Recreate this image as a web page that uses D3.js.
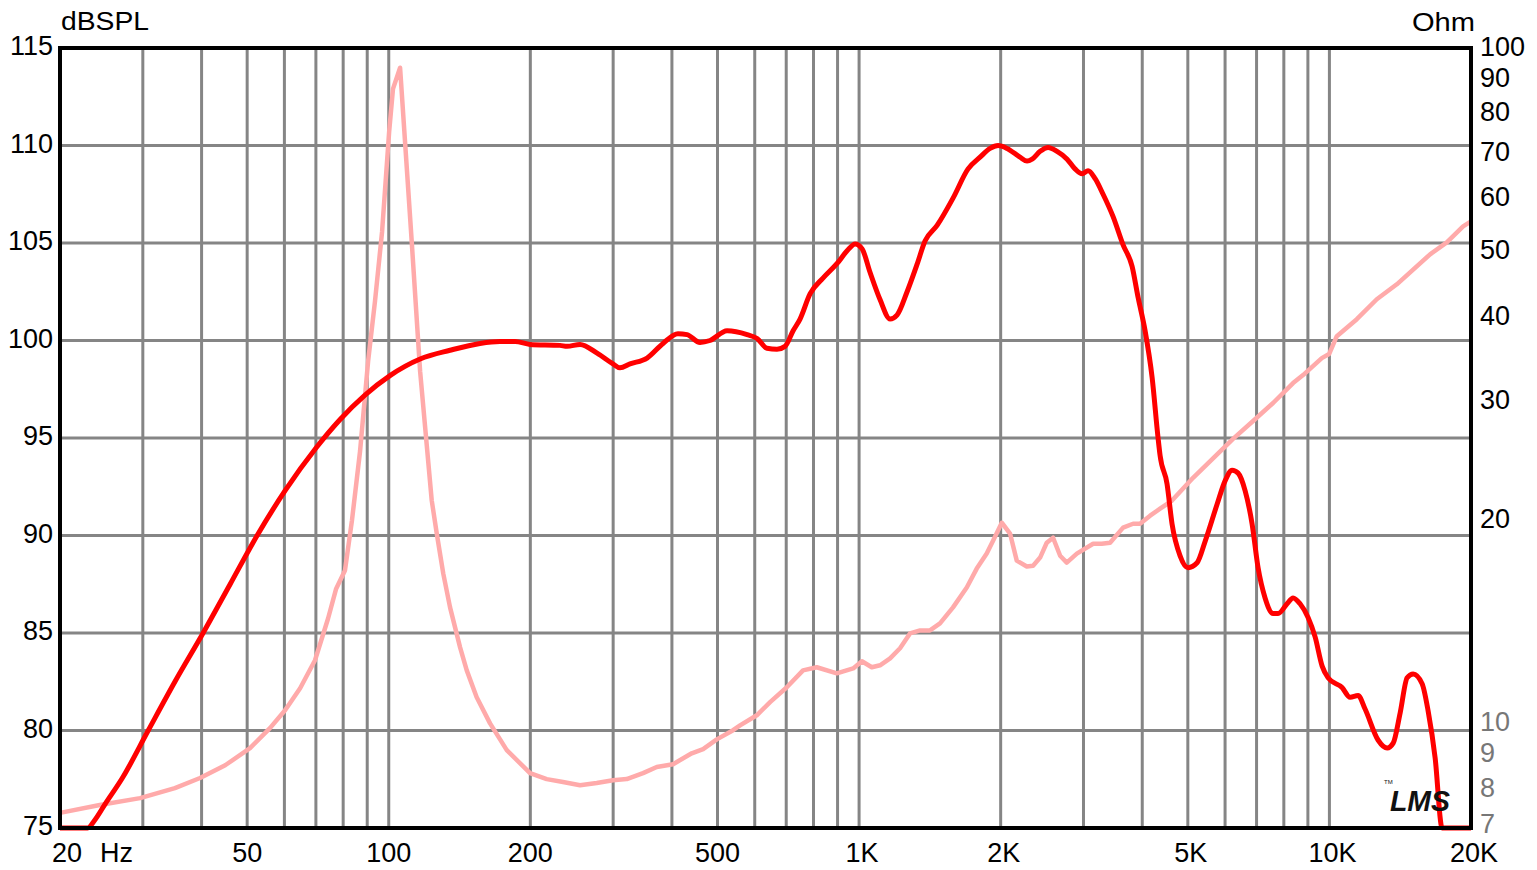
<!DOCTYPE html>
<html>
<head>
<meta charset="utf-8">
<script src="https://cdn.jsdelivr.net/npm/d3@7"></script>
<style>
  html, body { margin: 0; padding: 0; background: #fff; }
  svg { display: block; }
  text { font-family: "Liberation Sans", Arial, sans-serif; }
</style>
</head>
<body>
<svg id="chart" width="1537" height="870"></svg>
<script>
// ---------- data ----------
const splFreq = [20, 22.9, 23.7, 24.9, 27.2, 30.8, 35.1, 40.3, 46.0, 52.5, 60.2, 70.1, 78.8, 89.0, 100.6, 116.6, 135, 156.3, 172.4, 185.6, 199.7, 231.3, 239.4, 255.1, 277.3, 299.8, 310.2, 325.8, 354.2, 383, 412, 430.8, 459, 482, 524, 578, 607, 637, 669, 696, 724, 749, 787, 838, 898, 943, 981, 1015, 1055, 1108, 1164, 1204, 1265, 1328, 1381, 1465, 1584, 1705, 1808, 1899, 1975, 2064, 2199, 2276, 2333, 2426, 2523, 2636, 2769, 2878, 2980, 3068, 3176, 3302, 3468, 3642, 3806, 3920, 4056, 4198, 4322, 4365, 4516, 4628, 4814, 5006, 5232, 5442, 5770, 6000, 6210, 6396, 6618, 6848, 7052, 7298, 7590, 7780, 8128, 8370, 8662, 9008, 9324, 9650, 9938, 10638, 11066, 11508, 11908, 12696, 13268, 13664, 14138, 14630, 15066, 15744, 16214, 16778, 17362, 20000];
const splDb = [74, 75.0, 75.4, 76.2, 77.6, 80.0, 82.5, 85.0, 87.5, 90.0, 92.3, 94.5, 95.95, 97.2, 98.2, 99.05, 99.5, 99.85, 99.95, 99.95, 99.8, 99.75, 99.7, 99.8, 99.35, 98.8, 98.6, 98.8, 99.1, 99.85, 100.35, 100.3, 99.9, 100.0, 100.5, 100.3, 100.1, 99.6, 99.55, 99.7, 100.5, 101.1, 102.4, 103.2, 103.95, 104.6, 104.95, 104.7, 103.5, 102.1, 101.1, 101.3, 102.5, 103.9, 105.1, 105.9, 107.3, 108.8, 109.4, 109.85, 110.0, 109.85, 109.4, 109.2, 109.3, 109.7, 109.9, 109.7, 109.3, 108.8, 108.55, 108.7, 108.3, 107.5, 106.35, 104.9, 103.8, 102.2, 100.5, 98.1, 95.0, 94.1, 92.65, 90.6, 88.96, 88.35, 88.6, 89.7, 91.6, 92.8, 93.35, 93.2, 92.3, 90.6, 88.35, 86.8, 86.0, 86.0, 86.5, 86.8, 86.5, 85.8, 84.8, 83.3, 82.7, 82.2, 81.7, 81.8, 81.1, 79.5, 79.1, 79.35, 80.9, 82.7, 82.9, 82.4, 81.0, 78.6, 74.9, 70];

const impFreq = [20, 24.3, 29.6, 35.1, 39.7, 44.9, 50.7, 55.9, 60.2, 64.8, 69.7, 74.3, 77.3, 80.7, 83.5, 86.9, 90.4, 93.5, 96.8, 100.2, 102.1, 105.7, 111.9, 116.6, 123.4, 126.5, 130.6, 135, 141.8, 146.5, 153.8, 164.2, 178.2, 199.7, 216.7, 234.7, 255.1, 276.8, 299.8, 320.6, 347.3, 371.4, 402.2, 440.8, 466, 498.3, 539.6, 558.4, 606, 646.8, 702, 760, 812.8, 896.6, 971.3, 1014, 1064, 1108, 1164, 1222, 1283, 1348, 1415, 1486, 1584, 1694, 1779, 1868, 1927, 2011, 2094, 2164, 2273, 2344, 2426, 2506, 2585, 2676, 2764, 2904, 3145, 3280, 3417, 3642, 3824, 3957, 4157, 4365, 4622, 5130, 6238, 6882, 7590, 8370, 8790, 9634, 9984, 10368, 11436, 12610, 13910, 16370, 17764, 19242, 20000];
const impOhm = [7.37, 7.57, 7.75, 8.02, 8.30, 8.67, 9.19, 9.84, 10.46, 11.27, 12.40, 14.30, 15.83, 16.84, 19.95, 25.3, 34.4, 42.2, 53.5, 75.2, 87.0, 93.5, 51.7, 33.2, 21.4, 19.1, 16.66, 14.85, 12.96, 11.98, 10.93, 10.0, 9.13, 8.44, 8.27, 8.19, 8.10, 8.16, 8.24, 8.27, 8.44, 8.62, 8.70, 9.03, 9.16, 9.47, 9.77, 9.93, 10.28, 10.75, 11.31, 11.98, 12.11, 11.86, 12.06, 12.36, 12.11, 12.19, 12.48, 12.92, 13.59, 13.73, 13.73, 14.06, 14.85, 15.89, 16.95, 17.84, 18.64, 19.82, 19.10, 17.42, 17.07, 17.12, 17.60, 18.51, 18.83, 17.71, 17.30, 17.84, 18.45, 18.45, 18.51, 19.49, 19.75, 19.75, 20.30, 20.79, 21.36, 23.10, 26.38, 28.04, 29.81, 31.91, 32.79, 34.74, 35.22, 37.44, 39.67, 42.46, 44.68, 49.49, 51.55, 54.43, 55.36];

const dbTicks = [75, 80, 85, 90, 95, 100, 105, 110, 115];
const ohmTicks = [7, 8, 9, 10, 20, 30, 40, 50, 60, 70, 80, 90, 100];
const ohmGreyTicks = [7, 8, 9, 10];
const freqGrid = [30, 40, 50, 60, 70, 80, 90, 100, 200, 300, 400, 500, 600, 700, 800, 900, 1000, 2000, 3000, 4000, 5000, 6000, 7000, 8000, 9000, 10000];
const freqTickValues = [50, 100, 200, 500, 1000, 2000, 5000, 10000, 20000];
const freqTickLabels = ["50", "100", "200", "500", "1K", "2K", "5K", "10K", "20K"];
const leftTitle = "dBSPL";
const rightTitle = "Ohm";
const unitLabel = "Hz";

// ---------- layout ----------
const L = 60, R = 1471, T = 48, B = 828;
const svg = d3.select("#chart");

const x = d3.scaleLog().domain([20, 20000]).range([L, R]);
const y = d3.scaleLinear().domain([75, 115]).range([B, T]).clamp(true);
const yz = d3.scaleLog().domain([7, 100]).range([B, T]).clamp(true);

const gridColor = "#858585";

// vertical grid
svg.append("g").selectAll("line").data(freqGrid).join("line")
  .attr("x1", d => x(d)).attr("x2", d => x(d))
  .attr("y1", T).attr("y2", B)
  .attr("stroke", gridColor).attr("stroke-width", 3);

// horizontal grid
svg.append("g").selectAll("line").data(dbTicks.slice(1, -1)).join("line")
  .attr("x1", L).attr("x2", R)
  .attr("y1", d => y(d)).attr("y2", d => y(d))
  .attr("stroke", gridColor).attr("stroke-width", 3);

// curves
const splLine = d3.line().x(d => x(d[0])).y(d => y(d[1])).curve(d3.curveMonotoneX);
const impLine = d3.line().x(d => x(d[0])).y(d => yz(d[1]));

svg.append("path")
  .datum(d3.zip(impFreq, impOhm))
  .attr("d", impLine)
  .attr("fill", "none").attr("stroke", "#ffaaaa")
  .attr("stroke-width", 4.5).attr("stroke-linejoin", "round");

svg.append("path")
  .datum(d3.zip(splFreq, splDb))
  .attr("d", splLine)
  .attr("fill", "none").attr("stroke", "#ff0000")
  .attr("stroke-width", 5).attr("stroke-linejoin", "round");

// frame
svg.append("rect")
  .attr("x", L).attr("y", T).attr("width", R - L).attr("height", B - T)
  .attr("fill", "none").attr("stroke", "#000").attr("stroke-width", 4);

// left labels
svg.append("g").selectAll("text").data(dbTicks).join("text")
  .attr("x", 53).attr("y", d => y(d) + 7)
  .attr("text-anchor", "end").attr("font-size", 27).attr("fill", "#000")
  .text(d => d);

// right labels
svg.append("g").selectAll("text").data(ohmTicks).join("text")
  .attr("x", 1480).attr("y", d => yz(d) + (d === 7 ? 5 : 8))
  .attr("text-anchor", "start").attr("font-size", 27)
  .attr("fill", d => ohmGreyTicks.includes(d) ? "#777777" : "#000")
  .text(d => d);

// bottom labels
svg.append("g").selectAll("text").data(freqTickValues).join("text")
  .attr("x", (d, i) => x(d) + (freqTickLabels[i].includes("K") ? 3 : 0))
  .attr("y", 862)
  .attr("text-anchor", "middle").attr("font-size", 27).attr("fill", "#000")
  .text((d, i) => freqTickLabels[i]);

svg.append("text").attr("x", x(20) - 8).attr("y", 862)
  .attr("font-size", 27).text("20");
svg.append("text").attr("x", x(20) + 40).attr("y", 862)
  .attr("font-size", 27).text(unitLabel);

// titles
svg.append("text").attr("x", 61).attr("y", 30)
  .attr("font-size", 25).attr("textLength", 88).attr("lengthAdjust", "spacingAndGlyphs")
  .text(leftTitle);
svg.append("text").attr("x", 1475).attr("y", 31)
  .attr("text-anchor", "end")
  .attr("font-size", 25).attr("textLength", 63).attr("lengthAdjust", "spacingAndGlyphs")
  .text(rightTitle);

// LMS logo
svg.append("text").attr("x", 1390).attr("y", 811)
  .attr("font-size", 30).attr("font-style", "italic").attr("font-weight", "bold")
  .attr("textLength", 60).attr("lengthAdjust", "spacingAndGlyphs")
  .attr("fill", "#111")
  .text("LMS");
svg.append("text").attr("x", 1384).attr("y", 784)
  .attr("font-size", 6).attr("fill", "#111").text("TM");
</script>
</body>
</html>
